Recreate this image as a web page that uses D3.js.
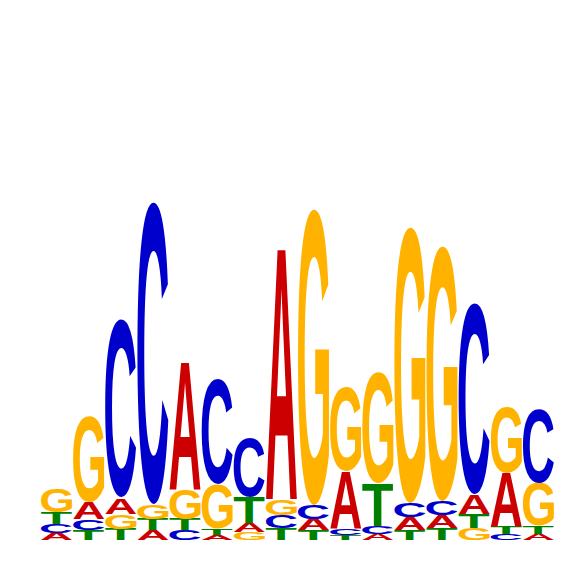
<!DOCTYPE html>
<html>
<head>
<meta charset="utf-8">
<script src="https://cdn.jsdelivr.net/npm/d3@7"></script>
<style>
  body { margin: 0; background: #fff; }
</style>
</head>
<body>
<svg id="logo"></svg>
<script>
// information content (bits) per base at each of the 16 positions
var positions = d3.range(1, 17)
var bitsA = [0.028, 0.068, 0.064, 0.040, 0.512, 0.020, 0.036, 1.012, 0.044, 0.228, 0.024, 0.052, 0.052, 0.080, 0.216, 0.024]
var bitsC = [0.036, 0.044, 0.712, 1.208, 0.040, 0.424, 0.236, 0.052, 0.056, 0.028, 0.032, 0.056, 0.056, 0.764, 0.024, 0.296]
var bitsG = [0.096, 0.340, 0.060, 0.060, 0.120, 0.180, 0.032, 0.064, 1.184, 0.336, 0.440, 1.104, 1.020, 0.048, 0.264, 0.172]
var bitsT = [0.048, 0.040, 0.044, 0.044, 0.044, 0.024, 0.104, 0.048, 0.040, 0.020, 0.172, 0.040, 0.048, 0.056, 0.028, 0.032]

var bases = ["A", "C", "G", "T"]
var baseColor = {
    A: "#CC0000",
    C: "#0000CC",
    G: "#FFB300",
    T: "#008000"
}

var dimensions = {
    width: 566,
    height: 566,
    margin: { top: 40, bottom: 26, left: 41, right: 12 }
}

var fontSpec = "bold 100px 'Liberation Sans'"

var svg = d3.select("#logo")
    .attr("width", dimensions.width)
    .attr("height", dimensions.height)

var xScale = d3.scaleBand()
    .domain(positions)
    .range([dimensions.margin.left, dimensions.width - dimensions.margin.right])
    .paddingInner(0.03)

var yScale = d3.scaleLinear()
    .domain([0, 2])
    .range([dimensions.height - dimensions.margin.bottom, dimensions.margin.top])

// ink bounds of each glyph, so letters can be stretched to fill their box
var ctx = document.createElement("canvas").getContext("2d")
ctx.font = fontSpec
var glyph = {}
bases.forEach(function (b) {
    var m = ctx.measureText(b)
    glyph[b] = {
        left: -m.actualBoundingBoxLeft,
        right: m.actualBoundingBoxRight,
        top: -m.actualBoundingBoxAscent,
        bottom: m.actualBoundingBoxDescent
    }
})

var values = { A: bitsA, C: bitsC, G: bitsG, T: bitsT }

// stack each column, smallest letter at the bottom
var letters = []
positions.forEach(function (p, i) {
    var col = bases.map(function (b) { return { base: b, pos: p, bits: values[b][i] } })
        .sort(function (a, b) { return a.bits - b.bits })
    var y0 = 0
    col.forEach(function (d) {
        d.y0 = y0
        d.y1 = y0 + d.bits
        y0 = d.y1
        letters.push(d)
    })
})

svg.append("g")
    .selectAll("text")
    .data(letters)
    .enter()
    .append("text")
    .style("font", fontSpec)
    .attr("fill", function (d) { return baseColor[d.base] })
    .attr("transform", function (d) {
        var g = glyph[d.base]
        var x = xScale(d.pos)
        var w = xScale.bandwidth()
        var top = yScale(d.y1)
        var h = yScale(d.y0) - top
        var sx = w / (g.right - g.left)
        var sy = h / (g.bottom - g.top)
        return "translate(" + x + "," + top + ") scale(" + sx + "," + sy + ") translate(" + (-g.left) + "," + (-g.top) + ")"
    })
    .text(function (d) { return d.base })
</script>
</body>
</html>
